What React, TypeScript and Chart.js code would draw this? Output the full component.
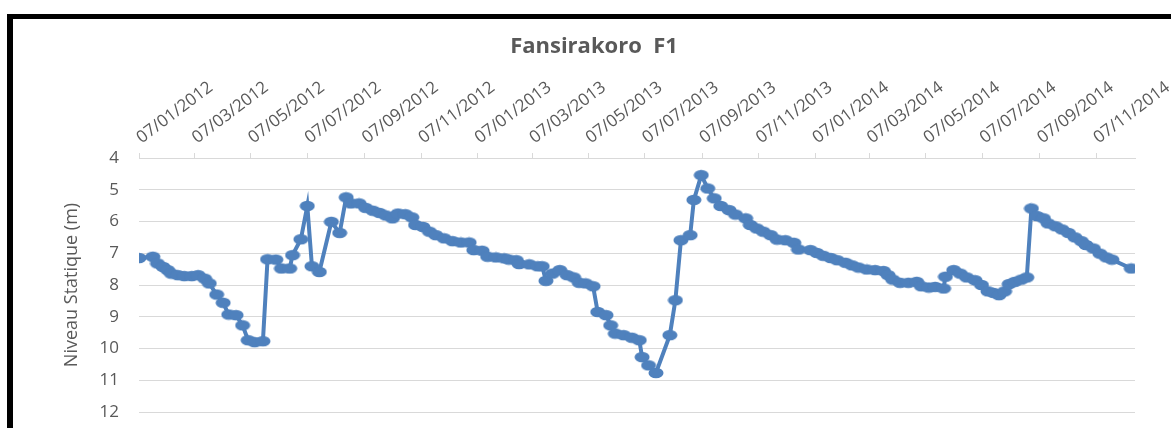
import React, { useEffect, useRef } from 'react';
import { Chart, registerables } from 'chart.js';

Chart.register(...registerables);

const chartTitle = 'Fansirakoro  F1';
const yAxisTitle = 'Niveau Statique (m)';
const startDate = '07/01/2012';
const endDate = '19/12/2014';

const tickLabels = [
  '07/01/2012', '07/03/2012', '07/05/2012', '07/07/2012', '07/09/2012', '07/11/2012',
  '07/01/2013', '07/03/2013', '07/05/2013', '07/07/2013', '07/09/2013', '07/11/2013',
  '07/01/2014', '07/03/2014', '07/05/2014', '07/07/2014', '07/09/2014', '07/11/2014',
];

// days elapsed since startDate
const dayOffsets = [
  0, 15, 20, 26, 31, 35, 42, 49, 57, 64, 71, 76, 84, 91, 97, 105, 112, 118, 125, 134,
  139, 148, 154, 163, 166, 175, 182, 187, 195, 208, 217, 224, 229, 238, 245, 253, 260,
  267, 274, 280, 288, 295, 299, 307, 314, 321, 330, 339, 348, 357, 362, 371, 377, 386,
  395, 400, 408, 411, 422, 431, 436, 440, 447, 455, 463, 470, 476, 483, 491, 496, 505,
  510, 515, 524, 533, 541, 544, 551, 559, 574, 580, 586, 596, 600, 608, 615, 622, 629,
  638, 645, 656, 661, 668, 675, 683, 690, 699, 708, 713, 726, 733, 740, 748, 755, 764,
  771, 778, 787, 796, 805, 810, 815, 823, 832, 841, 846, 854, 861, 870, 872, 881, 888,
  895, 904, 911, 918, 924, 930, 936, 941, 947, 954, 960, 965, 971, 978, 983, 991, 998,
  1005, 1012, 1019, 1024, 1032, 1039, 1046, 1052, 1073,
];

const niveauStatique = [
  7.15, 7.11, 7.32, 7.43, 7.53, 7.64, 7.69, 7.72, 7.72, 7.69, 7.8, 7.95, 8.3, 8.56, 8.93, 8.95, 9.27, 9.74, 9.8, 9.77,
  7.19, 7.2, 7.48, 7.48, 7.06, 6.56, 5.51, 7.41, 7.59, 6.01, 6.36, 5.24, 5.43, 5.43, 5.57, 5.66, 5.73,
  5.81, 5.9, 5.75, 5.77, 5.87, 6.11, 6.17, 6.32, 6.43, 6.53, 6.62, 6.66, 6.66, 6.9, 6.92, 7.11, 7.13,
  7.16, 7.2, 7.22, 7.34, 7.35, 7.41, 7.41, 7.87, 7.64, 7.53, 7.69, 7.76, 7.93, 7.95, 8.04, 8.85, 8.95,
  9.27, 9.53, 9.58, 9.66, 9.74, 10.27, 10.53, 10.77, 9.58, 8.48, 6.59, 6.43, 5.32, 4.54, 4.96, 5.27, 5.51,
  5.64, 5.78, 5.9, 6.11, 6.22, 6.32, 6.43, 6.57, 6.59, 6.67, 6.88, 6.9, 6.99, 7.08, 7.15, 7.22, 7.3,
  7.38, 7.45, 7.51, 7.53, 7.56, 7.69, 7.83, 7.93, 7.93, 7.9, 8.04, 8.08, 8.06, 8.11, 7.74, 7.53, 7.64,
  7.76, 7.85, 8.0, 8.2, 8.25, 8.32, 8.2, 7.97, 7.9, 7.83, 7.76, 5.59, 5.83, 5.9, 6.06, 6.15, 6.25,
  6.36, 6.5, 6.62, 6.74, 6.85, 7.01, 7.13, 7.2, 7.48,
];

const yMin = 4;
const yMax = 12;

const parseDMY = (s: string) => {
  const [d, m, y] = s.split('/').map(Number);
  return Date.UTC(y, m - 1, d);
};
const daysFromStart = (s: string) => Math.round((parseDMY(s) - parseDMY(startDate)) / 86400000);

const tickDays = tickLabels.map(daysFromStart);
const labelByDay: Record<number, string> = {};
tickDays.forEach((d, i) => { labelByDay[d] = tickLabels[i]; });

const BLUE = '#4F81BD';
const GRID = '#D9D9D9';
const TEXT = '#595959';
const FONT = '"Open Sans", Arial, sans-serif';

function makeMarker(): HTMLCanvasElement {
  const c = document.createElement('canvas');
  c.width = 16;
  c.height = 12;
  const ctx = c.getContext('2d')!;
  ctx.fillStyle = BLUE;
  ctx.beginPath();
  ctx.ellipse(8, 6, 7.5, 5.3, 0, 0, Math.PI * 2);
  ctx.fill();
  return c;
}

export default function App() {
  const ref = useRef<HTMLCanvasElement>(null);

  useEffect(() => {
    if (!ref.current) return;
    const marker = makeMarker();
    const chart = new Chart(ref.current, {
      type: 'line',
      data: {
        datasets: [
          {
            label: yAxisTitle,
            data: dayOffsets.map((x, i) => ({ x, y: niveauStatique[i] })),
            borderColor: BLUE,
            backgroundColor: BLUE,
            borderWidth: 4,
            pointStyle: marker as any,
            pointRadius: 6,
            tension: 0,
          },
        ],
      },
      options: {
        responsive: false,
        devicePixelRatio: 1,
        animation: false,
        layout: { padding: { left: 53, right: 36, top: 0, bottom: 16 }, autoPadding: false },
        plugins: {
          legend: { display: false },
          tooltip: { enabled: false },
          title: {
            display: true,
            text: chartTitle,
            color: TEXT,
            font: { family: FONT, size: 22, weight: 'bold' },
            padding: { top: 34, bottom: 0 },
          },
        },
        scales: {
          x: {
            type: 'linear',
            position: 'top',
            min: 0,
            max: daysFromStart(endDate),
            afterBuildTicks: (s: any) => {
              s.ticks = tickDays.map((v) => ({ value: v }));
            },
            afterFit: (s: any) => {
              s.height = 158 - (34 + 22 * 1.2);
              s.paddingLeft = 0;
              s.paddingRight = 0;
            },
            ticks: {
              autoSkip: false,
              minRotation: 37,
              maxRotation: 37,
              padding: 5,
              labelOffset: 12,
              color: TEXT,
              font: { family: FONT, size: 17 },
              callback: (v: any) => labelByDay[v] ?? '',
            },
            grid: { drawOnChartArea: false, drawTicks: true, tickLength: 5, color: GRID },
            border: { display: true, color: GRID },
          },
          y: {
            type: 'linear',
            reverse: true,
            min: yMin,
            max: yMax,
            afterFit: (s: any) => {
              s.width = 86;
              s.paddingTop = 0;
              s.paddingBottom = 0;
            },
            ticks: {
              stepSize: 1,
              padding: 20,
              color: TEXT,
              font: { family: FONT, size: 17 },
            },
            grid: { color: GRID, drawTicks: false },
            border: { display: false },
            title: {
              display: true,
              text: yAxisTitle,
              color: TEXT,
              font: { family: FONT, size: 18 },
              padding: { top: 8, bottom: 0 },
            },
          },
        },
      },
    });
    return () => chart.destroy();
  }, []);

  return (
    <div style={{ position: 'absolute', left: 0, top: 0, width: 1171, height: 428, overflow: 'hidden', background: '#fff' }}>
      <div
        style={{
          position: 'absolute',
          left: 7,
          top: 14,
          width: 1300,
          height: 600,
          borderLeft: '6px solid #000',
          borderTop: '5px solid #000',
        }}
      />
      <canvas ref={ref} width={1171} height={428} style={{ position: 'absolute', left: 0, top: 0, width: 1171, height: 428 }} />
    </div>
  );
}
